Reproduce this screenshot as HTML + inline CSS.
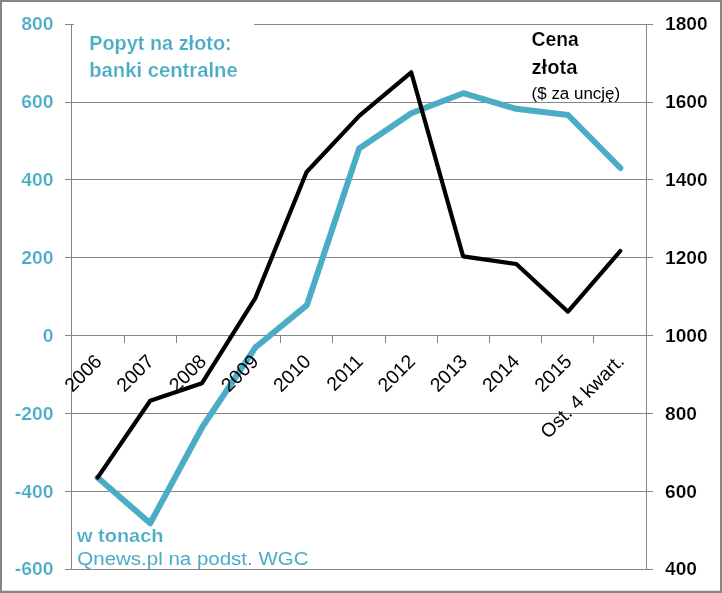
<!DOCTYPE html>
<html lang="pl">
<head>
<meta charset="utf-8">
<title>Popyt na złoto: banki centralne</title>
<style>
html,body{margin:0;padding:0;background:#fff;}
body{width:722px;height:593px;position:relative;overflow:hidden;}
</style>
</head>
<body>
<svg width="722" height="593" viewBox="0 0 722 593" style="display:block;position:absolute;left:0;top:0" font-family='"Liberation Sans", sans-serif'>
<rect x="0" y="0" width="722" height="593" fill="#fff"/>
<line x1="65" y1="24.5" x2="653" y2="24.5" stroke="#868686" stroke-width="1"/>
<line x1="65" y1="102.5" x2="653" y2="102.5" stroke="#868686" stroke-width="1"/>
<line x1="65" y1="179.5" x2="653" y2="179.5" stroke="#868686" stroke-width="1"/>
<line x1="65" y1="257.5" x2="653" y2="257.5" stroke="#868686" stroke-width="1"/>
<line x1="65" y1="335.5" x2="653" y2="335.5" stroke="#868686" stroke-width="1"/>
<line x1="65" y1="413.5" x2="653" y2="413.5" stroke="#868686" stroke-width="1"/>
<line x1="65" y1="491.5" x2="653" y2="491.5" stroke="#868686" stroke-width="1"/>
<line x1="65" y1="569.5" x2="653" y2="569.5" stroke="#868686" stroke-width="1"/>
<line x1="71.5" y1="24" x2="71.5" y2="570" stroke="#868686" stroke-width="1"/>
<line x1="646.5" y1="24" x2="646.5" y2="570" stroke="#868686" stroke-width="1"/>
<line x1="124.5" y1="335" x2="124.5" y2="343" stroke="#868686" stroke-width="1"/>
<line x1="176.5" y1="335" x2="176.5" y2="343" stroke="#868686" stroke-width="1"/>
<line x1="228.5" y1="335" x2="228.5" y2="343" stroke="#868686" stroke-width="1"/>
<line x1="280.5" y1="335" x2="280.5" y2="343" stroke="#868686" stroke-width="1"/>
<line x1="332.5" y1="335" x2="332.5" y2="343" stroke="#868686" stroke-width="1"/>
<line x1="385.5" y1="335" x2="385.5" y2="343" stroke="#868686" stroke-width="1"/>
<line x1="437.5" y1="335" x2="437.5" y2="343" stroke="#868686" stroke-width="1"/>
<line x1="489.5" y1="335" x2="489.5" y2="343" stroke="#868686" stroke-width="1"/>
<line x1="541.5" y1="335" x2="541.5" y2="343" stroke="#868686" stroke-width="1"/>
<line x1="593.5" y1="335" x2="593.5" y2="343" stroke="#868686" stroke-width="1"/>
<rect x="74" y="20" width="180" height="70" fill="#fff"/>
<polyline points="97.6,477.6 150.2,523.3 202.3,427.0 255.4,347.4 306.9,305.1 359.2,148.4 411.3,113.3 463.2,93.2 516.0,108.8 568.0,115.0 620.4,168.0" fill="none" stroke="#4bacc6" stroke-width="6" stroke-linejoin="round" stroke-linecap="round"/>
<polyline points="97.6,477.6 150.2,400.7 202.0,383.2 255.3,298.1 306.6,172.0 359.5,115.6 411.2,72.3 463.1,256.3 516.3,264.0 568.0,311.7 620.3,251.0" fill="none" stroke="#000" stroke-width="4.2" stroke-linejoin="round" stroke-linecap="round"/>
<text transform="translate(53.5,29.9) scale(1.063,1)" font-size="18.2" font-weight="bold" fill="#4bacc6" stroke="#fff" stroke-width="0.2" text-anchor="end">800</text>
<text transform="translate(53.5,107.9) scale(1.063,1)" font-size="18.2" font-weight="bold" fill="#4bacc6" stroke="#fff" stroke-width="0.2" text-anchor="end">600</text>
<text transform="translate(53.5,185.9) scale(1.063,1)" font-size="18.2" font-weight="bold" fill="#4bacc6" stroke="#fff" stroke-width="0.2" text-anchor="end">400</text>
<text transform="translate(53.5,263.9) scale(1.063,1)" font-size="18.2" font-weight="bold" fill="#4bacc6" stroke="#fff" stroke-width="0.2" text-anchor="end">200</text>
<text transform="translate(53.5,341.9) scale(1.063,1)" font-size="18.2" font-weight="bold" fill="#4bacc6" stroke="#fff" stroke-width="0.2" text-anchor="end">0</text>
<text transform="translate(53.5,419.9) scale(1.063,1)" font-size="18.2" font-weight="bold" fill="#4bacc6" stroke="#fff" stroke-width="0.2" text-anchor="end">-200</text>
<text transform="translate(53.5,497.9) scale(1.063,1)" font-size="18.2" font-weight="bold" fill="#4bacc6" stroke="#fff" stroke-width="0.2" text-anchor="end">-400</text>
<text transform="translate(53.5,574.9) scale(1.063,1)" font-size="18.2" font-weight="bold" fill="#4bacc6" stroke="#fff" stroke-width="0.2" text-anchor="end">-600</text>
<text transform="translate(665.0,29.9) scale(1.055,1)" font-size="18.2" font-weight="bold" fill="#000" stroke="#fff" stroke-width="0.2">1800</text>
<text transform="translate(665.0,107.9) scale(1.055,1)" font-size="18.2" font-weight="bold" fill="#000" stroke="#fff" stroke-width="0.2">1600</text>
<text transform="translate(665.0,185.9) scale(1.055,1)" font-size="18.2" font-weight="bold" fill="#000" stroke="#fff" stroke-width="0.2">1400</text>
<text transform="translate(665.0,263.9) scale(1.055,1)" font-size="18.2" font-weight="bold" fill="#000" stroke="#fff" stroke-width="0.2">1200</text>
<text transform="translate(665.0,341.9) scale(1.055,1)" font-size="18.2" font-weight="bold" fill="#000" stroke="#fff" stroke-width="0.2">1000</text>
<text transform="translate(665.0,419.9) scale(1.055,1)" font-size="18.2" font-weight="bold" fill="#000" stroke="#fff" stroke-width="0.2">800</text>
<text transform="translate(665.0,497.9) scale(1.055,1)" font-size="18.2" font-weight="bold" fill="#000" stroke="#fff" stroke-width="0.2">600</text>
<text transform="translate(665.0,574.9) scale(1.055,1)" font-size="18.2" font-weight="bold" fill="#000" stroke="#fff" stroke-width="0.2">400</text>
<text transform="translate(102.9,362.5) rotate(-45)" font-size="19.4" fill="#000" text-anchor="end">2006</text>
<text transform="translate(155.1,362.5) rotate(-45)" font-size="19.4" fill="#000" text-anchor="end">2007</text>
<text transform="translate(207.4,362.5) rotate(-45)" font-size="19.4" fill="#000" text-anchor="end">2008</text>
<text transform="translate(259.6,362.5) rotate(-45)" font-size="19.4" fill="#000" text-anchor="end">2009</text>
<text transform="translate(311.8,362.5) rotate(-45)" font-size="19.4" fill="#000" text-anchor="end">2010</text>
<text transform="translate(364.1,362.5) rotate(-45)" font-size="19.4" fill="#000" text-anchor="end">2011</text>
<text transform="translate(416.3,362.5) rotate(-45)" font-size="19.4" fill="#000" text-anchor="end">2012</text>
<text transform="translate(468.5,362.5) rotate(-45)" font-size="19.4" fill="#000" text-anchor="end">2013</text>
<text transform="translate(520.7,362.5) rotate(-45)" font-size="19.4" fill="#000" text-anchor="end">2014</text>
<text transform="translate(573.0,362.5) rotate(-45)" font-size="19.4" fill="#000" text-anchor="end">2015</text>
<text transform="translate(625.2,362.5) rotate(-45)" font-size="19.4" fill="#000" text-anchor="end">Ost. 4 kwart.</text>
<text x="89.2" y="49.5" font-size="20" fill="#4bacc6" font-weight="bold" stroke="#fff" stroke-width="0.2" textLength="142.5" lengthAdjust="spacingAndGlyphs">Popyt na złoto:</text>
<text x="89.2" y="76.8" font-size="20" fill="#4bacc6" font-weight="bold" stroke="#fff" stroke-width="0.2" textLength="148.5" lengthAdjust="spacingAndGlyphs">banki centralne</text>
<text x="531.5" y="46.3" font-size="20.6" fill="#000" font-weight="bold" stroke="#fff" stroke-width="0.2" textLength="47.2" lengthAdjust="spacingAndGlyphs">Cena</text>
<text x="531.5" y="74.4" font-size="20.6" fill="#000" font-weight="bold" stroke="#fff" stroke-width="0.2" textLength="46" lengthAdjust="spacingAndGlyphs">złota</text>
<text x="531.6" y="99.3" font-size="17.4" fill="#000" textLength="88.6" lengthAdjust="spacingAndGlyphs">($ za uncję)</text>
<text x="77" y="541.6" font-size="19.2" fill="#4bacc6" font-weight="bold" stroke="#fff" stroke-width="0.2" textLength="86.5" lengthAdjust="spacingAndGlyphs">w tonach</text>
<text x="77.3" y="564.8" font-size="19.2" fill="#4bacc6" textLength="231.2" lengthAdjust="spacingAndGlyphs">Qnews.pl na podst. WGC</text>
<path d="M0 0H722V593H0Z M2 2V590.7H720V2Z" fill="#868686" fill-rule="evenodd"/>
</svg>
</body>
</html>
